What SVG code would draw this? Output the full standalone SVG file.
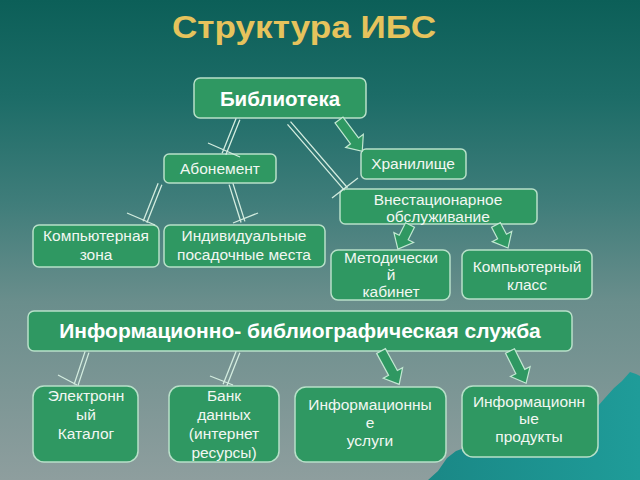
<svg xmlns="http://www.w3.org/2000/svg" width="640" height="480" viewBox="0 0 640 480">
<defs>
<linearGradient id="bg" x1="0" y1="0" x2="0" y2="1">
<stop offset="0" stop-color="#0c5f58"/>
<stop offset="0.2" stop-color="#1c6c67"/>
<stop offset="0.42" stop-color="#3f7d7a"/>
<stop offset="0.63" stop-color="#6a8e8c"/>
<stop offset="1" stop-color="#8e9e9e"/>
</linearGradient>
<linearGradient id="mtn" x1="0" y1="0" x2="1" y2="0">
<stop offset="0" stop-color="#1a8886"/>
<stop offset="1" stop-color="#1f9c99"/>
</linearGradient>
<style>
.box{fill:#2f9862;stroke:#b8e0c9;stroke-width:1.5}
.t{font-family:"Liberation Sans",Arial,sans-serif;font-size:15.5px;fill:#f2f7f2;text-anchor:middle}
.b1{font-weight:bold;fill:#ffffff;font-size:20.5px}
.b2{font-weight:bold;fill:#ffffff;font-size:21px}
.title{font-family:"Liberation Sans",Arial,sans-serif;font-size:32px;font-weight:bold;fill:#e6c35c;text-anchor:middle}
.dbl{fill:none;stroke:#d3ecdf;stroke-width:1.3}
.blk{fill:#2f9862;stroke:#c2e8d2;stroke-width:1.2;stroke-linejoin:miter}
</style>
</defs>
<rect width="640" height="480" fill="url(#bg)"/>
<polygon points="428,480 438,471 447,458 456,451 470,446 598,406 605,398 614,388 622,381 630,372 636,374 640,376 640,480" fill="url(#mtn)"/>
<text class="title" x="304" y="38" textLength="264" lengthAdjust="spacingAndGlyphs">Структура ИБС</text>

<g id="n-biblioteka"><rect class="box" x="194" y="78" width="172" height="40" rx="6"/><text class="t b1" x="280" y="106">Библиотека</text></g>
<g id="n-abonement"><rect class="box" x="164" y="154" width="112" height="29" rx="5"/><text class="t" x="220" y="174">Абонемент</text></g>
<g id="n-hranilische"><rect class="box" x="361" y="149" width="105" height="30" rx="5"/><text class="t" x="413" y="169">Хранилище</text></g>
<g id="n-vnestac"><rect class="box" x="340" y="189" width="197" height="35" rx="5"/><text class="t" x="438" y="205">Внестационарное</text><text class="t" x="438" y="222">обслуживание</text></g>
<g id="n-compzona"><rect class="box" x="33" y="225" width="126" height="42" rx="6"/><text class="t" x="96" y="241">Компьютерная</text><text class="t" x="96" y="260">зона</text></g>
<g id="n-individ"><rect class="box" x="164" y="225" width="161" height="42" rx="6"/><text class="t" x="244" y="241">Индивидуальные</text><text class="t" x="244" y="260">посадочные места</text></g>
<g id="n-metod"><rect class="box" x="331" y="250" width="119" height="50" rx="7"/><text class="t" x="391" y="263">Методически</text><text class="t" x="391" y="280">й</text><text class="t" x="391" y="297">кабинет</text></g>
<g id="n-compklass"><rect class="box" x="462" y="250" width="130" height="49" rx="7"/><text class="t" x="527" y="272">Компьютерный</text><text class="t" x="527" y="290">класс</text></g>
<g id="n-ibs"><rect class="box" x="28" y="311" width="544" height="40" rx="6"/><text class="t b2" x="300" y="338">Информационно- библиографическая служба</text></g>
<g id="n-elcat"><rect class="box" x="33" y="386" width="105" height="76" rx="11"/><text class="t" x="86" y="401">Электронн</text><text class="t" x="86" y="420">ый</text><text class="t" x="86" y="439">Каталог</text></g>
<g id="n-bank"><rect class="box" x="169" y="386" width="110" height="76" rx="11"/><text class="t" x="224" y="401">Банк</text><text class="t" x="224" y="420">данных</text><text class="t" x="224" y="439">(интернет</text><text class="t" x="224" y="458">ресурсы)</text></g>
<g id="n-uslugi"><rect class="box" x="295" y="387" width="151" height="75" rx="11"/><text class="t" x="370" y="410">Информационны</text><text class="t" x="370" y="428">е</text><text class="t" x="370" y="446">услуги</text></g>
<g id="n-produkty"><rect class="box" x="462" y="386" width="136" height="71" rx="11"/><text class="t" x="529" y="407">Информационн</text><text class="t" x="529" y="424">ые</text><text class="t" x="529" y="442">продукты</text></g>

<g id="connectors">
<g class="dbl"><path transform="translate(238,119) rotate(111.8)" d="M0,-2H37.7M0,2H37.7"/><line x1="208" y1="143" x2="240" y2="157"/></g>
<g class="dbl"><path transform="translate(289,123) rotate(49.2)" d="M0,-2H87.2M0,2H87.2"/><line x1="332" y1="198" x2="358" y2="178"/></g>
<g class="dbl"><path transform="translate(160,184) rotate(111.5)" d="M0,-2H40.9M0,2H40.9"/><line x1="127" y1="213" x2="155" y2="225"/></g>
<g class="dbl"><path transform="translate(231,184) rotate(72.5)" d="M0,-2H39.8M0,2H39.8"/><line x1="233" y1="223" x2="258" y2="213"/></g>
<g class="dbl"><path transform="translate(87,352) rotate(108.4)" d="M0,-2H34.8M0,2H34.8"/><line x1="58" y1="375" x2="77" y2="385"/></g>
<g class="dbl"><path transform="translate(238,352) rotate(111.5)" d="M0,-2H35.5M0,2H35.5"/><line x1="210" y1="376" x2="233" y2="385"/></g>
<polygon class="blk" transform="translate(339,120) rotate(53.4)" points="0,-5 26,-5 26,-11 39,0 26,11 26,5 0,5"/>
<polygon class="blk" transform="translate(410,225) rotate(116.6)" points="0,-5 14,-5 14,-11 27,0 14,11 14,5 0,5"/>
<polygon class="blk" transform="translate(496,225) rotate(62.4)" points="0,-5 13,-5 13,-11 26,0 13,11 13,5 0,5"/>
<polygon class="blk" transform="translate(381,351) rotate(61.4)" points="0,-5 25,-5 25,-11 38,0 25,11 25,5 0,5"/>
<polygon class="blk" transform="translate(510,351) rotate(63.4)" points="0,-5 23,-5 23,-11 36,0 23,11 23,5 0,5"/>
</g>
</svg>
